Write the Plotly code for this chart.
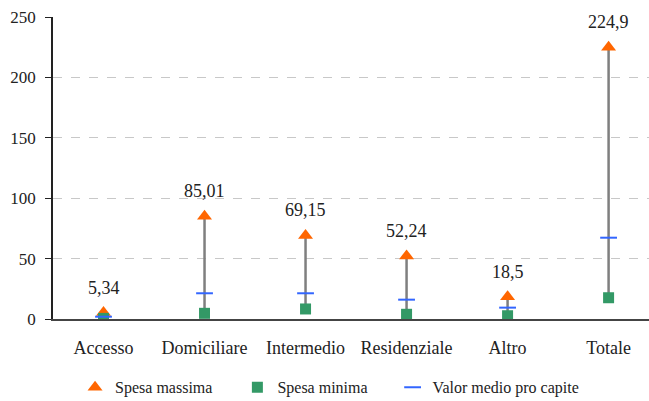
import plotly.graph_objects as go

categorie = ["Accesso", "Domiciliare", "Intermedio", "Residenziale", "Altro", "Totale"]
spesa_massima = [5.34, 85.01, 69.15, 52.24, 18.5, 224.9]
spesa_minima = [0.5, 4.7, 8.3, 3.9, 2.7, 17.6]
valor_medio = [1.9, 21.3, 21.3, 16.0, 9.4, 67.3]
etichette_max = ["5,34", "85,01", "69,15", "52,24", "18,5", "224,9"]

FONT = "Liberation Serif, serif"
INK = "#222"
PAD = "\u00a0" * 5  # spacing between legend entries

# vertical range bars from minimum to maximum
xs, ys = [], []
for c, lo, hi in zip(categorie, spesa_minima, spesa_massima):
    xs += [c, c, None]
    ys += [lo, hi, None]

fig = go.Figure()
fig.add_trace(go.Scatter(
    x=xs, y=ys, mode="lines", line=dict(color="#7f7f7f", width=2.5),
    showlegend=False, hoverinfo="skip",
))
fig.add_trace(go.Scatter(
    x=categorie, y=spesa_massima, mode="markers", name="Spesa massima" + PAD,
    marker=dict(symbol="triangle-up", size=13, color="#ff6600"),
))
fig.add_trace(go.Scatter(
    x=categorie, y=spesa_minima, mode="markers", name="Spesa minima" + PAD,
    marker=dict(symbol="square", size=11, color="#339966"),
))
fig.add_trace(go.Scatter(
    x=categorie, y=valor_medio, mode="markers", name="Valor medio pro capite",
    marker=dict(symbol="line-ew", size=12, line=dict(color="#3366ff", width=2)),
))

for c, v, t in zip(categorie, spesa_massima, etichette_max):
    fig.add_annotation(x=c, y=v, text=t, showarrow=False, yshift=25,
                       font=dict(family=FONT, size=18, color=INK))

fig.update_layout(
    width=649, height=401,
    margin=dict(l=53, r=0, t=17, b=82, autoexpand=False),
    plot_bgcolor="white", paper_bgcolor="white",
    font=dict(family=FONT, size=17, color=INK),
    legend=dict(orientation="h", x=0.037, y=-0.17, xanchor="left", yanchor="top",
                font=dict(family=FONT, size=16, color=INK), itemwidth=30,
                traceorder="normal"),
)
fig.update_xaxes(
    type="category", range=[-0.5, 5.4], showgrid=False,
    showline=True, linecolor="#444", linewidth=1.5, ticks="",
    ticklabelstandoff=12, tickfont=dict(family=FONT, size=18, color=INK),
)
fig.update_yaxes(
    range=[0, 250], tickvals=[0, 50, 100, 150, 200, 250],
    showgrid=True, gridcolor="#c8c8c8", griddash="dash", gridwidth=1,
    showline=True, linecolor="#222", linewidth=1.5,
    ticks="outside", ticklen=6, tickcolor="#222",
    zeroline=False, ticklabelstandoff=6,
    tickfont=dict(family=FONT, size=17, color=INK),
)

fig.write_html("out.html")
